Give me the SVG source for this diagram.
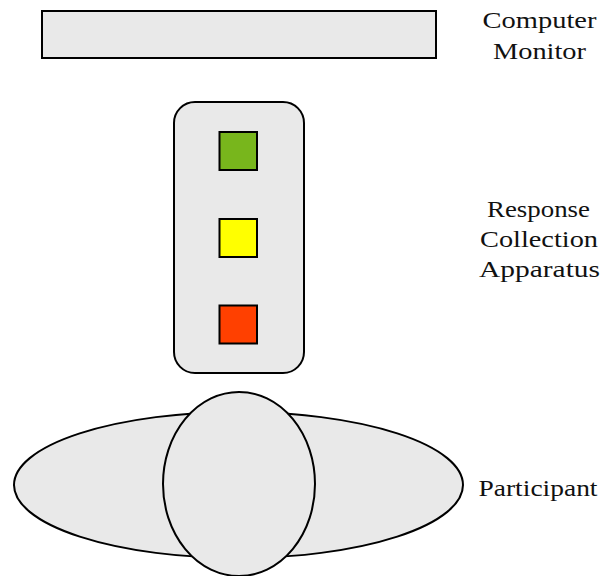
<svg xmlns="http://www.w3.org/2000/svg" width="605" height="576" viewBox="0 0 605 576">
  <style>
    .shape { fill: #e9e9e9; stroke: #000; stroke-width: 2; }
    .key { stroke: #000; stroke-width: 2; }
    .label { font-family: 'Liberation Serif', 'DejaVu Serif', serif; font-size: 23px; fill: #111; text-anchor: middle; }
  </style>
  <rect width="605" height="576" fill="#fff"/>

  <g id="monitor">
    <rect class="shape" x="42" y="11" width="394" height="47" stroke-width="2.5"/>
    <text class="label" x="539.5" y="28" textLength="114" lengthAdjust="spacingAndGlyphs">Computer</text>
    <text class="label" x="539.5" y="59" textLength="93" lengthAdjust="spacingAndGlyphs">Monitor</text>
  </g>

  <g id="response-box">
    <rect class="shape" x="174" y="102" width="130" height="271" rx="21" ry="21"/>
    <rect class="key" x="219.5" y="132" width="37.5" height="38" fill="#78b61c"/>
    <rect class="key" x="219.5" y="219" width="37.5" height="38" fill="#ffff00"/>
    <rect class="key" x="219.5" y="305.5" width="37.5" height="38" fill="#ff4000"/>
    <text class="label" x="538.5" y="217" textLength="103" lengthAdjust="spacingAndGlyphs">Response</text>
    <text class="label" x="539" y="247" textLength="118" lengthAdjust="spacingAndGlyphs">Collection</text>
    <text class="label" x="539.5" y="277" textLength="121" lengthAdjust="spacingAndGlyphs">Apparatus</text>
  </g>

  <g id="participant">
    <ellipse class="shape" cx="238.5" cy="485" rx="224.5" ry="73"/>
    <ellipse class="shape" cx="239" cy="484" rx="76" ry="92"/>
    <text class="label" x="538" y="496" textLength="119" lengthAdjust="spacingAndGlyphs">Participant</text>
  </g>
</svg>
